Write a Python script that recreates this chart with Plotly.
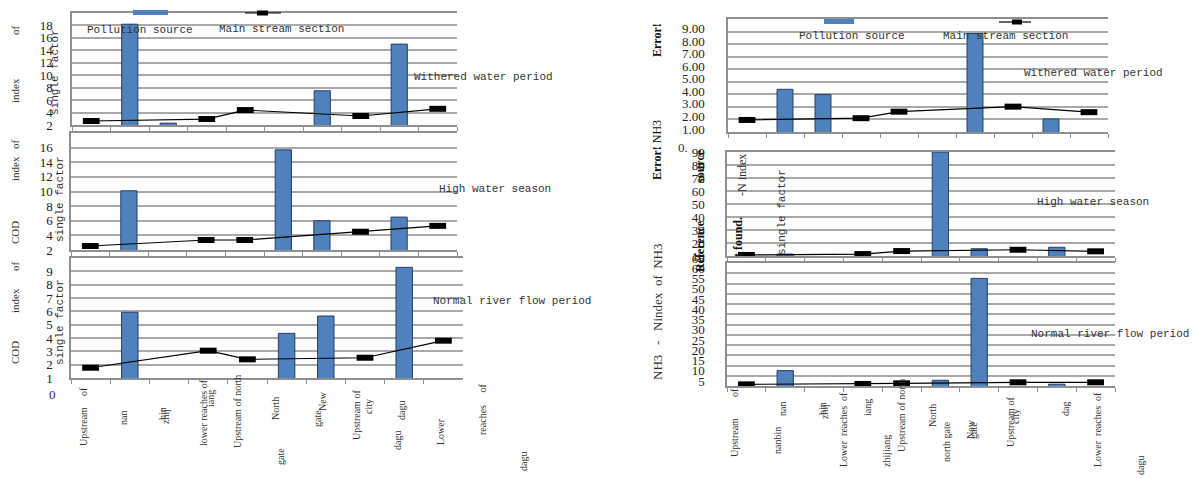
import plotly.graph_objects as go

W, H = 1192, 478

# ---------------- data ----------------
categories = ["Upstream of nanbin", "nanbin", "zhijiang", "Lower reaches of zhijiang",
              "Upstream of north gate", "North gate", "New gate", "Upstream of city",
              "dagu", "Lower reaches of dagu"]

# COD single factor index
cod_source_withered = [None, 18.2, 2.3, None, None, None, 7.5, None, 15.0, None]
cod_main_withered = [2.64, None, None, 2.96, 4.4, None, None, 3.45, None, 4.6]
cod_source_high = [None, 10.1, None, None, None, 15.7, 6.0, None, 6.5, None]
cod_main_high = [2.55, None, None, 3.37, 3.37, None, None, 4.5, None, 5.3]
cod_source_normal = [None, 5.93, None, None, None, 4.35, 5.65, None, 9.3, None]
cod_main_normal = [1.77, None, None, 3.05, 2.4, None, None, 2.52, None, 3.8]

# NH3-N single factor index
nh3_source_withered = [None, 4.4, 3.98, None, None, None, 8.84, None, 2.04, None]
nh3_main_withered = [1.96, None, None, 2.1, 2.62, None, None, 3.02, None, 2.58]
nh3_source_high = [None, 11.5, None, None, None, 90.0, 15.6, None, 16.7, None]
nh3_main_high = [10.8, None, None, 11.5, 13.8, None, None, 14.8, None, 13.6]
nh3_source_normal = [None, 12.5, None, None, None, 7.8, 57.5, None, 5.9, None]
nh3_main_normal = [5.8, None, None, 6.0, 6.3, None, None, 6.8, None, 6.8]

# y-axis tick values per panel
ticks_cod_withered = [2, 4, 6, 8, 10, 12, 14, 16, 18]
ticks_cod_high = [2, 4, 6, 8, 10, 12, 14, 16]
ticks_cod_normal = [1, 2, 3, 4, 5, 6, 7, 8, 9]
ticks_nh3_withered = [1, 2, 3, 4, 5, 6, 7, 8, 9]
ticks_nh3_high = [10, 20, 30, 40, 50, 60, 70, 80, 90]
ticks_nh3_normal = [5, 10, 15, 20, 25, 30, 35, 40, 45, 50, 55, 60, 65]

series_names = ["Pollution source", "Main stream section"]
period_names = ["Withered water period", "High water season", "Normal river flow period"]

# x tick-label fragments as printed (text, x px, y px)
left_xlabels = [("of", 83, 392), ("Upstream", 83, 427), ("nan", 123, 418),
                ("zhij", 165, 417), ("bin", 162, 414),
                ("lower reaches of", 203, 413), ("iang", 210, 399),
                ("Upstream of north", 237, 412), ("North", 275, 409), ("gate", 280, 457),
                ("gate", 317, 419), ("New", 322, 401), ("Upstream of", 356, 415),
                ("city", 368, 407), ("dagu", 397, 441), ("dagu", 401, 410),
                ("Lower", 440, 432), ("reaches\u00a0\u00a0\u00a0\u00a0\u00a0of", 482, 410),
                ("dagu", 523, 462)]
right_xlabels = [("of", 734, 393), ("Upstream", 734, 438), ("nanbin", 777, 441),
                 ("nan", 782, 409), ("zhij", 824, 412), ("bin", 822, 409),
                 ("Lower\u00a0\u00a0reaches\u00a0\u00a0of", 843, 430), ("iang", 867, 408),
                 ("zhijiang", 886, 451), ("Upstream of north", 901, 416),
                 ("North", 932, 416), ("north gate", 946, 442), ("New", 970, 429),
                 ("gate", 973, 431), ("Upstream of", 1010, 422), ("city", 1015, 417),
                 ("dag", 1065, 409), ("Lower\u00a0\u00a0reaches\u00a0\u00a0of", 1097, 430),
                 ("dagu", 1140, 466)]

# ---------------- styling ----------------
BAR = "#4f81bd"
BAR_EDGE = "#233f63"
GRID = "#a9a9a9"
AXL = "#8f8f8f"
SERIF = "Liberation Serif"
MONO = "Liberation Mono"


def px(x):
    return x / W


def py(y):
    return 1 - y / H


# panel geometry in pixels: (x0, x1, ytop, ybottom)
panels = [
    (72, 457, 13, 125), (71, 457, 133, 250), (71, 463, 258, 378),
    (728, 1108, 19, 132), (727, 1115, 152, 256), (727, 1115, 263, 386),
]
yranges = [[2, 20], [2, 18], [1, 10], [1, 10], [10, 90], [5, 65]]
yticks = [ticks_cod_withered, ticks_cod_high, ticks_cod_normal,
          ticks_nh3_withered, ticks_nh3_high, ticks_nh3_normal]
bars = [cod_source_withered, cod_source_high, cod_source_normal,
        nh3_source_withered, nh3_source_high, nh3_source_normal]
lines = [cod_main_withered, cod_main_high, cod_main_normal,
         nh3_main_withered, nh3_main_high, nh3_main_normal]
tickfmt = ["", "", "", ".2f", "", ""]
labshift = [0, 0, 0, -3, 0, -5]
standoff = [15, 14, 14, 19, 18, 18]

fig = go.Figure()
layout = dict(width=W, height=H, margin=dict(l=0, r=0, t=0, b=0, autoexpand=False),
              paper_bgcolor="white", plot_bgcolor="white", showlegend=False,
              font=dict(family=SERIF, size=13, color="black"))

for i in range(6):
    n = "" if i == 0 else str(i + 1)
    xa, ya = "x" + n, "y" + n
    x0, x1, yt, yb = panels[i]
    fig.add_trace(go.Bar(x=categories, y=bars[i], width=0.42, xaxis=xa, yaxis=ya,
                         marker=dict(color=BAR, line=dict(color=BAR_EDGE, width=1)),
                         name=series_names[0]))
    fig.add_trace(go.Scatter(x=categories, y=lines[i], xaxis=xa, yaxis=ya, mode="lines+markers",
                             connectgaps=True, cliponaxis=False, name=series_names[1],
                             line=dict(color="black", width=1.2),
                             marker=dict(symbol="line-ew", size=12, color="black",
                                         line=dict(color="black", width=6))))
    layout["xaxis" + n] = dict(domain=[px(x0), px(x1)], anchor=ya, type="category",
                               categoryorder="array", categoryarray=categories,
                               range=[-0.5, 9.5], showticklabels=False, ticks="outside",
                               ticklen=4, tickcolor=AXL, tickwidth=1, tickson="boundaries",
                               showline=True, linecolor=AXL, linewidth=1.5, mirror=True,
                               showgrid=False, zeroline=False)
    ydict = dict(domain=[py(yb), py(yt)], anchor=xa, range=yranges[i], tickmode="array",
                 tickvals=yticks[i], showgrid=True, gridcolor=GRID, gridwidth=1.5,
                 showline=True, linecolor=AXL, linewidth=1.5, ticks="", zeroline=False,
                 tickfont=dict(family=SERIF, size=13, color="#222"),
                 ticklabelstandoff=standoff[i], ticklabelshift=labshift[i])
    if tickfmt[i]:
        ydict["tickformat"] = tickfmt[i]
    layout["yaxis" + n] = ydict

fig.update_layout(**layout)

ann = []


def txt(text, x, y, size=11, family=MONO, angle=0, color="#333"):
    ann.append(dict(text=text, x=px(x), y=py(y), xref="paper", yref="paper",
                    showarrow=False, textangle=angle, xanchor="center", yanchor="middle",
                    font=dict(family=family, size=size, color=color)))


# legend texts
txt(series_names[0], 140, 30)
txt(series_names[1], 281, 29)
txt(series_names[0], 852, 36)
txt(series_names[1], 1005, 36)

# period labels
txt(period_names[0], 483, 77)
txt(period_names[1], 495, 189)
txt(period_names[2], 512, 301)
txt(period_names[0], 1093, 73)
txt(period_names[1], 1093, 202)
txt(period_names[2], 1110, 334)

# garbled y-axis titles (left)
for t, y in [("of", 30), ("index", 90), ("of", 144), ("index", 168), ("COD", 232),
             ("of", 266), ("index", 300), ("COD", 352)]:
    txt(t, 15, y, size=11, family=SERIF, angle=-90)
for x, y in [(55, 72), (60, 199), (60, 322)]:
    txt("single factor", x, y, size=11, family=MONO, angle=-90)
txt("0", 52, 394, size=13, family=SERIF)

# garbled y-axis titles (right)
txt("<b>Error!</b>", 657, 40, size=12, family=SERIF, angle=-90, color="#111")
txt("<b>Error!</b>\u00a0NH3", 657, 150, size=12, family=SERIF, angle=-90, color="#111")
txt("NH3\u00a0\u00a0\u00a0-\u00a0\u00a0\u00a0Nindex\u00a0\u00a0of\u00a0\u00a0NH3", 657, 312,
    size=13, family=SERIF, angle=-90)
txt("0.", 683, 147, size=13, family=SERIF)
txt("<b>source</b>", 700, 166, size=12, family=SERIF, angle=-90, color="#111")
txt("<b>Reference</b>", 700, 246, size=12, family=SERIF, angle=-90, color="#111")
txt("<b>t found.</b>", 738, 237, size=12, family=SERIF, angle=-90, color="#111")
txt("-N index", 742, 175, size=12, family=SERIF, angle=-90)
txt("single factor", 782, 212, size=11, family=MONO, angle=-90)

# x tick label fragments
for t, x, y in left_xlabels + right_xlabels:
    txt(t, x, y, size=10, family=SERIF, angle=-90)

fig.update_layout(annotations=ann)

# legend keys
shapes = []
for (bx0, bx1, by0, by1), (lx0, lx1, ly, sx0, sx1, sy0, sy1) in [
        ((133, 168, 10, 15), (245, 281, 13, 257, 268, 10.5, 15.5)),
        ((824, 854, 19, 24), (999, 1031, 22, 1012, 1022, 19.5, 24.5))]:
    shapes.append(dict(type="rect", xref="paper", yref="paper", x0=px(bx0), x1=px(bx1),
                       y0=py(by1), y1=py(by0), fillcolor=BAR, line=dict(width=0)))
    shapes.append(dict(type="line", xref="paper", yref="paper", x0=px(lx0), x1=px(lx1),
                       y0=py(ly), y1=py(ly), line=dict(color="black", width=1.2)))
    shapes.append(dict(type="rect", xref="paper", yref="paper", x0=px(sx0), x1=px(sx1),
                       y0=py(sy1), y1=py(sy0), fillcolor="black", line=dict(width=0)))
fig.update_layout(shapes=shapes)

fig.write_html("out.html")
